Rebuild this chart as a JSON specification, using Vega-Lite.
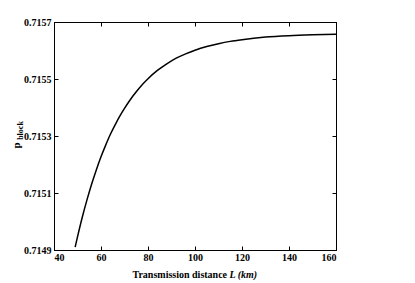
{
  "$schema": "https://vega.github.io/schema/vega-lite/v6.json",
  "width": 282,
  "height": 228,
  "autosize": {"type": "none"},
  "padding": {"left": 54, "top": 22, "right": 79, "bottom": 33},
  "background": "white",
  "config": {
    "view": {"stroke": "#000", "strokeWidth": 1},
    "axis": {
      "labelFont": "Liberation Serif",
      "titleFont": "Liberation Serif",
      "labelFontWeight": "bold",
      "titleFontWeight": "bold",
      "labelColor": "#000",
      "titleColor": "#000",
      "domainColor": "#000",
      "tickColor": "#000",
      "grid": false,
      "labelFontSize": 10,
      "titleFontSize": 10
    }
  },
  "data": {
    "values": [
      {"L": 49, "p": 0.714910},
      {"L": 50, "p": 0.714946},
      {"L": 52, "p": 0.715014},
      {"L": 54, "p": 0.715075},
      {"L": 56, "p": 0.715131},
      {"L": 58, "p": 0.715181},
      {"L": 60, "p": 0.715227},
      {"L": 62, "p": 0.715268},
      {"L": 64, "p": 0.715306},
      {"L": 66, "p": 0.715339},
      {"L": 68, "p": 0.715370},
      {"L": 70, "p": 0.715397},
      {"L": 72, "p": 0.715422},
      {"L": 75, "p": 0.715455},
      {"L": 78, "p": 0.715484},
      {"L": 80, "p": 0.715501},
      {"L": 84, "p": 0.715530},
      {"L": 88, "p": 0.715553},
      {"L": 92, "p": 0.715573},
      {"L": 96, "p": 0.715588},
      {"L": 100, "p": 0.715601},
      {"L": 105, "p": 0.715614},
      {"L": 110, "p": 0.715624},
      {"L": 115, "p": 0.715632},
      {"L": 120, "p": 0.715638},
      {"L": 130, "p": 0.715647},
      {"L": 140, "p": 0.715652},
      {"L": 150, "p": 0.715655},
      {"L": 160, "p": 0.715657}
    ]
  },
  "layer": [
    {
      "mark": {"type": "line", "color": "#000", "strokeWidth": 1.5, "interpolate": "monotone", "clip": true},
      "encoding": {
        "x": {
          "field": "L", "type": "quantitative",
          "scale": {"domain": [40, 160], "nice": false, "zero": false},
          "axis": {
            "orient": "bottom", "values": [40, 60, 80, 100, 120, 140, 160],
            "tickSize": -4, "labelPadding": 6, "title": "Transmission distance",
            "titleX": 78, "titleY": 27, "titleAnchor": "start", "titleAlign": "left", "titleBaseline": "alphabetic"
          }
        },
        "y": {
          "field": "p", "type": "quantitative",
          "scale": {"domain": [0.7149, 0.7157], "nice": false, "zero": false},
          "axis": {
            "orient": "left", "values": [0.7149, 0.7151, 0.7153, 0.7155, 0.7157], "format": ".4f",
            "tickSize": -4, "labelPadding": 7, "title": "p",
            "titleFontSize": 11,
            "titleAngle": 270, "titleAlign": "center", "titleBaseline": "middle",
            "titleX": -38, "titleY": 123
          }
        }
      }
    },
    {
      "mark": {"type": "line", "opacity": 0, "interpolate": "monotone"},
      "encoding": {
        "x": {
          "field": "L", "type": "quantitative",
          "axis": {"orient": "top", "values": [40, 60, 80, 100, 120, 140, 160], "tickSize": -4, "labels": false, "title": null}
        },
        "y": {
          "field": "p", "type": "quantitative",
          "axis": {"orient": "right", "values": [0.7149, 0.7151, 0.7153, 0.7155, 0.7157], "tickSize": -4, "labels": false, "title": null}
        }
      }
    },
    {
      "mark": {"type": "line", "opacity": 0, "interpolate": "monotone"},
      "encoding": {
        "x": {
          "field": "L", "type": "quantitative",
          "axis": {
            "orient": "bottom", "domain": false, "ticks": false, "labels": false, "title": "L (km)",
            "titleFontStyle": "italic", "titleX": 175, "titleY": 27, "titleAnchor": "start", "titleAlign": "left", "titleBaseline": "alphabetic"
          }
        },
        "y": {
          "field": "p", "type": "quantitative",
          "axis": {
            "orient": "left", "domain": false, "ticks": false, "labels": false, "title": "block", "titleFontSize": 8,
            "titleAngle": 270, "titleAlign": "center", "titleBaseline": "middle",
            "titleX": -34, "titleY": 108
          }
        }
      }
    }
  ],
  "resolve": {"axis": {"x": "independent", "y": "independent"}}
}
